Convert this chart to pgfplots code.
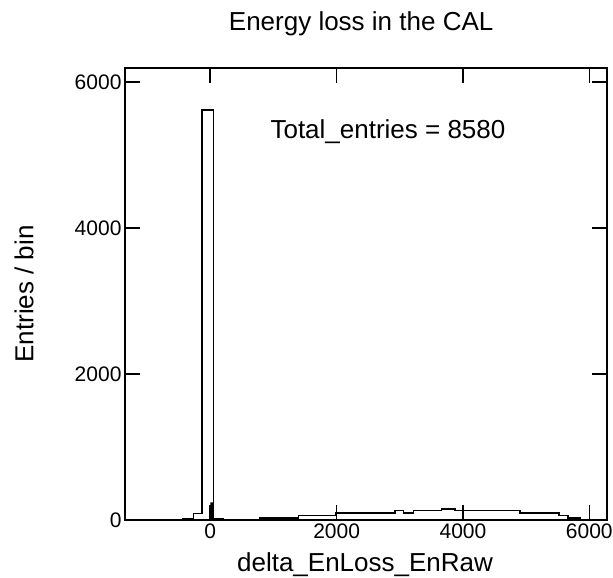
\documentclass[border=0pt]{standalone}
\usepackage{fontspec}
\setmainfont{Liberation Sans}
\usepackage{pgfplots}
\pgfplotsset{compat=1.18}
\begin{document}
\begin{tikzpicture}[x=1pt,y=1pt]
\useasboundingbox (-125,-58) rectangle (488,520);
\begin{axis}[
  at={(0,0)}, anchor=south west,
  scale only axis, width=482pt, height=452pt,
  xmin=-1350, xmax=6280, ymin=0, ymax=6190,
  xtick={0,2000,4000,6000}, ytick={0,2000,4000,6000},
  scaled ticks=false,
  tick align=inside, major tick length=15pt,
  minor tick num=0,
  axis line style={line width=1.6pt},
  every tick/.style={line width=1.6pt, black},
  /pgf/number format/assume math mode=true,
  /pgf/number format/1000 sep={},
  tick label style={font=\fontsize{21}{21}\selectfont},
  every axis title shift=0pt,
  title={Energy loss in the CAL},
  title style={font=\fontsize{26}{26}\selectfont, at={(axis description cs:0.49,1.0819)}, anchor=base},
  xlabel={delta\_EnLoss\_EnRaw},
  xlabel style={font=\fontsize{26}{26}\selectfont, at={(axis description cs:0.498,-0.115)}, anchor=base},
  ylabel={Entries / bin},
  ylabel style={font=\fontsize{26}{26}\selectfont, at={(axis description cs:-0.2095,0.5)}, anchor=center, rotate=0},
]
% step histogram, value held from each edge to the next one
\addplot[const plot mark left, line width=1.6pt, black] coordinates {
  (-1350,0) (-435,18) (-264,88) (-131,5616) (52,18) (201,0)
  (790,25) (1396,59) (1992,92) (2925,128) (3057,92) (3214,128)
  (3663,151) (3873,128) (4901,92) (5522,59) (5665,30) (5850,0) (6280,0)
};
% narrow bin just above zero
\addplot[fill=black, draw=none] coordinates {(0,0) (0,240) (50,240) (50,0)} \closedcycle;
\node[anchor=base west, font=\fontsize{26}{26}\selectfont] at (axis description cs:0.2946,0.845) {Total\_entries = 8580};
\end{axis}
\end{tikzpicture}
\end{document}
